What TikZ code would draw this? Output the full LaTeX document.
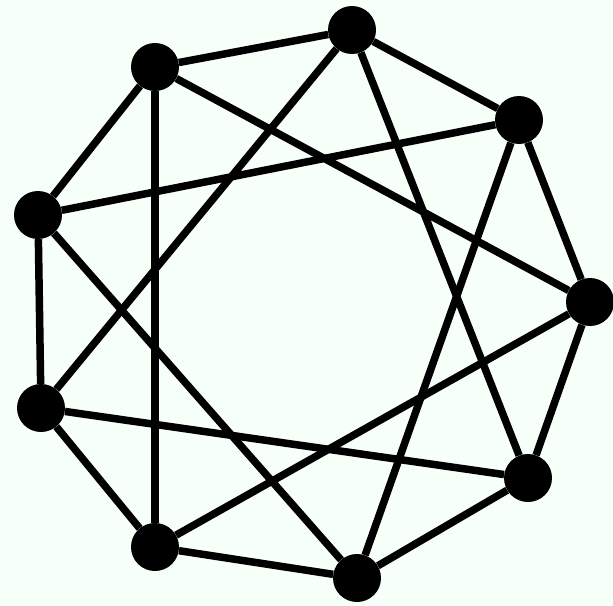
\documentclass[tikz,border=0pt]{standalone}
\definecolor{bg}{RGB}{246,255,248}
\begin{document}
\begin{tikzpicture}[x=1pt,y=-1pt,
  vtx/.style={circle,fill=black,inner sep=0pt,minimum size=48pt},
  edge/.style={line width=7.5pt,black}]
\fill[bg] (0,0) rectangle (613,605);
\useasboundingbox (0,0) rectangle (613,605);
\node[vtx] (n1) at (352,30) {};
\node[vtx] (n2) at (519,120) {};
\node[vtx] (n3) at (590,302) {};
\node[vtx] (n4) at (528,478) {};
\node[vtx] (n5) at (357,578) {};
\node[vtx] (n6) at (155,547) {};
\node[vtx] (n7) at (41,408) {};
\node[vtx] (n8) at (38,215) {};
\node[vtx] (n9) at (155,67) {};
\foreach \a/\b in {n1/n2,n2/n3,n3/n4,n4/n5,n5/n6,n6/n7,n7/n8,n8/n9,n9/n1,
  n1/n4,n2/n5,n3/n6,n4/n7,n5/n8,n6/n9,n7/n1,n8/n2,n9/n3}
  \draw[edge] (\a) -- (\b);
\end{tikzpicture}
\end{document}
